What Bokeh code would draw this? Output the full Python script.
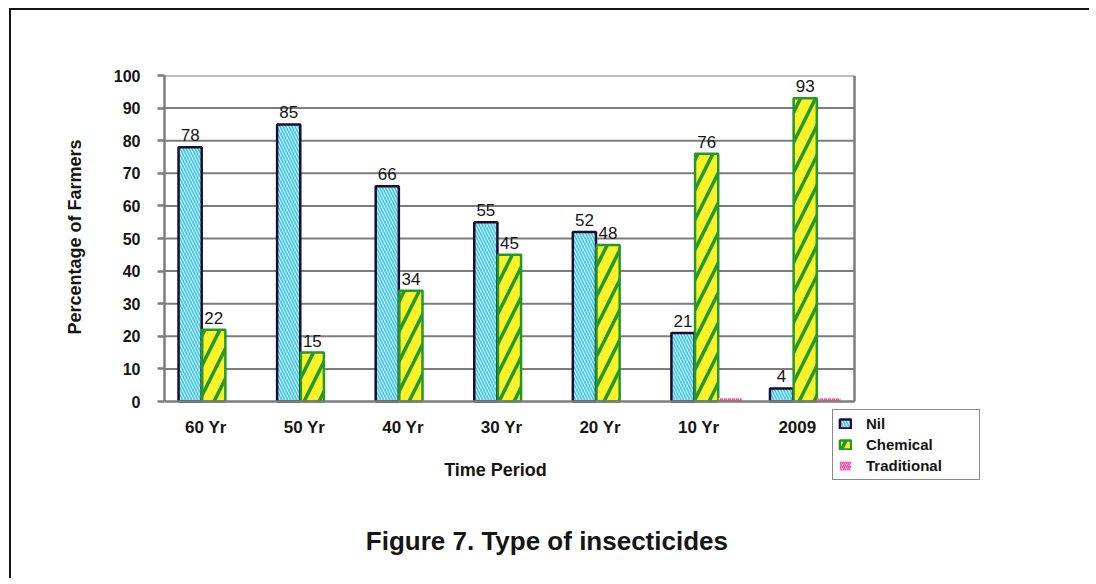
from bokeh.plotting import figure
from bokeh.models import (ColumnDataSource, Range1d, FixedTicker, LabelSet, Label, Title,
                          Legend, LegendItem)
from bokeh.core.properties import value
from bokeh.transform import dodge
from bokeh.embed import file_html
from bokeh.resources import INLINE

# ---- data ----
periods = ["60 Yr", "50 Yr", "40 Yr", "30 Yr", "20 Yr", "10 Yr", "2009"]
nil = [78, 85, 66, 55, 52, 21, 4]
chemical = [22, 15, 34, 45, 48, 76, 93]
traditional = [0, 0, 0, 0, 0, 1, 1]
y_ticks = [0, 10, 20, 30, 40, 50, 60, 70, 80, 90, 100]
series_names = ["Nil", "Chemical", "Traditional"]
x_title = "Time Period"
y_title = "Percentage of Farmers"
caption = "Figure 7.  Type of insecticides"

FONT = "Liberation Sans"
GRID = "#7d7d7d"
INK = "#151515"

# ---- layout (pixels) ----
W, H = 1080, 570
LEFT, RIGHT, TOP, BOTTOM = 153, 6, 65, 4
PLOT_W, PLOT_H = 690, 326          # pixel size of the 7-category x 100% chart area
frame_w = W - LEFT - RIGHT
frame_h = H - TOP - BOTTOM
n = len(periods)
y_max = y_ticks[-1]
x_hi = n * frame_w / PLOT_W
y_lo = y_max - y_max * frame_h / PLOT_H
label_shift = -0.08                # category labels sit slightly left of the groups

xs = [i + 0.5 for i in range(n)]
src = ColumnDataSource(dict(
    x=xs, period=periods, nil=nil, chemical=chemical, traditional=traditional,
    nil_lbl=[str(v) for v in nil], chem_lbl=[str(v) for v in chemical],
))

p = figure(x_range=Range1d(0, x_hi), y_range=Range1d(y_lo, y_max), width=W, height=H,
           output_backend="svg", toolbar_location=None,
           min_border_left=LEFT, min_border_right=RIGHT,
           min_border_top=TOP, min_border_bottom=BOTTOM)
p.styles = {"margin-left": "9px", "margin-top": "8px",
            "border-top": "2px solid #151515", "border-left": "2px solid #151515"}
p.background_fill_color = "white"
p.border_fill_color = "white"
p.outline_line_color = None
p.xgrid.grid_line_color = None
p.ygrid.grid_line_color = None

# gridlines and right border of the chart area
p.segment(x0=0, x1=n, y0=y_ticks[1:], y1=y_ticks[1:], line_color=GRID, line_width=2,
          level="underlay")
p.segment(x0=[n], x1=[n], y0=[0], y1=[y_max], line_color=GRID, line_width=2.5,
          level="underlay")

# bars
r_nil = p.vbar(x=dodge("x", -0.24), top="nil", width=0.235,
               source=src, fill_color="#33c3f0", line_color="#1d0c2c", line_width=2.5,
               hatch_pattern="left_diagonal_line", hatch_color="#d8f4ff",
               hatch_scale=6, hatch_weight=1.2)
r_chem = p.vbar(x=dodge("x", 0.0), top="chemical", width=0.235,
                source=src, fill_color="#fbf22a", line_color="#229a2a", line_width=2.5,
                hatch_pattern="right_diagonal_line", hatch_color="#229a2a",
                hatch_scale=30, hatch_weight=3.5)
r_trad = p.vbar(x=dodge("x", 0.24), top="traditional", width=0.235,
                source=src, fill_color="white", line_color=None,
                hatch_pattern="right_diagonal_line", hatch_color="#ff3b9a",
                hatch_scale=4, hatch_weight=1.5)

# value labels
for col, lbl, off in (("nil", "nil_lbl", -0.24), ("chemical", "chem_lbl", 0.0)):
    p.add_layout(LabelSet(x=dodge("x", off), y=col, text=lbl,
                          source=src, text_align="center", text_baseline="bottom",
                          y_offset=6, text_font=value(FONT), text_font_size="17px",
                          text_color=INK))

# axes
xa, ya = p.xaxis[0], p.yaxis[0]
for ax in (xa, ya):
    ax.axis_line_color = GRID
    ax.axis_line_width = 2.5
    ax.minor_tick_line_color = None
    ax.major_label_text_font = FONT
    ax.major_label_text_font_style = "bold"
    ax.major_label_text_color = INK

xtick_pos = [x + label_shift for x in xs]
xa.fixed_location = 0
xa.bounds = (0, n)
xa.ticker = FixedTicker(ticks=xtick_pos)
xa.major_label_overrides = {x: lab for x, lab in zip(xtick_pos, periods)}
xa.major_tick_line_color = None
xa.major_label_standoff = 10
xa.major_label_text_font_size = "17px"

ya.bounds = (0, y_max)
ya.ticker = FixedTicker(ticks=y_ticks)
ya.major_tick_line_color = GRID
ya.major_tick_line_width = 2.5
ya.major_tick_out = 7
ya.major_tick_in = 0
ya.major_label_standoff = 17
ya.major_label_text_font_size = "16px"

# y title, centred on the 0-100 part of the axis
p.add_layout(Title(text=y_title, align="left", offset=242, standoff=52,
                   text_font=FONT, text_font_size="18px", text_font_style="bold",
                   text_color=INK), "left")

# x title and caption
p.add_layout(Label(x=3.358, y=-20.9, text=x_title, text_align="center",
                   text_baseline="middle", text_font=FONT, text_font_size="18px",
                   text_font_style="bold", text_color=INK))
p.add_layout(Label(x=3.916, y=-42.8, text=caption, text_align="center",
                   text_baseline="middle", text_font=FONT, text_font_size="26px",
                   text_font_style="bold", text_color=INK))

legend = Legend(items=[LegendItem(label=series_names[0], renderers=[r_nil]),
                       LegendItem(label=series_names[1], renderers=[r_chem]),
                       LegendItem(label=series_names[2], renderers=[r_trad])],
                location=(668, frame_h - (480 - 75)), orientation="vertical",
                padding=5, spacing=4, margin=0, label_height=17,
                glyph_width=14, glyph_height=11, label_standoff=14, label_width=108,
                border_line_color=INK, border_line_width=1.5,
                background_fill_color="white", background_fill_alpha=1.0,
                label_text_font=FONT, label_text_font_size="15px",
                label_text_font_style="bold", label_text_color=INK)
p.add_layout(legend)

open("out.html", "w").write(file_html(p, INLINE))
